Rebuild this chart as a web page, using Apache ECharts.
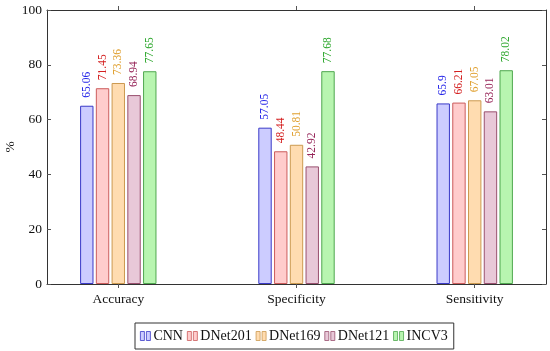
<!DOCTYPE html>
<html>
<head>
<meta charset="utf-8">
<script src="https://cdn.jsdelivr.net/npm/echarts@6/dist/echarts.min.js"></script>
<style>
html,body{margin:0;padding:0;background:#fff;}
#chart{width:550px;height:351px;}
</style>
</head>
<body>
<div id="chart"></div>
<script>
const categories = ['Accuracy', 'Specificity', 'Sensitivity'];
const seriesNames = ['CNN', 'DNet201', 'DNet169', 'DNet121', 'INCV3'];
const cnn = [65.06, 57.05, 65.9];
const dnet201 = [71.45, 48.44, 66.21];
const dnet169 = [73.36, 50.81, 67.05];
const dnet121 = [68.94, 42.92, 63.01];
const incv3 = [77.65, 77.68, 78.02];
const yTicks = [0, 20, 40, 60, 80, 100];

const values = [cnn, dnet201, dnet169, dnet121, incv3];
const fills = ['#ccccff', '#ffcccc', '#ffdcb0', '#e8c8d8', '#b8f5b0'];
const strokes = ['#3a3ac8', '#cc5c5c', '#cc9a50', '#99506f', '#4fa84f'];
const labelColors = ['#2424e8', '#d42020', '#e0a030', '#962458', '#2fa82f'];
const FONT = 'Liberation Serif';

const chart = echarts.init(document.getElementById('chart'), null, {renderer: 'canvas'});

const catIdx = categories.map((c, i) => i);

const series = seriesNames.map((name, s) => ({
  name: name,
  type: 'bar',
  xAxisIndex: 0,
  yAxisIndex: 0,
  barWidth: 13.4,
  barGap: '17.5%',
  data: values[s].map((v, i) => [catIdx[i], v]),
  itemStyle: {color: fills[s], borderColor: strokes[s], borderWidth: 1},
  label: {
    show: true,
    position: 'top',
    rotate: 90,
    align: 'left',
    verticalAlign: 'middle',
    distance: 8,
    color: labelColors[s],
    fontFamily: FONT,
    fontSize: 11.5,
    formatter: p => String(p.value[1])
  },
  emphasis: {disabled: true},
  animation: false
}));

const axisLineStyle = {show: true, onZero: false, lineStyle: {color: '#333', width: 1}};

const option = {
  animation: false,
  grid: {left: 47, right: 4, top: 10, bottom: 67, containLabel: false, outerBoundsMode: 'none'},
  legend: {
    data: seriesNames,
    left: 135,
    top: 323,
    orient: 'horizontal',
    itemWidth: 10,
    itemHeight: 9,
    itemGap: 4,
    padding: [6, 6, 6, 5],
    borderColor: '#333',
    borderWidth: 1,
    borderRadius: 0,
    icon: 'path://M0,0h4v9h-4z M6,0h4v9h-4z',
    itemStyle: {borderWidth: 0.8},
    textStyle: {fontFamily: FONT, fontSize: 14, color: '#111', padding: [0, 0, 0, -2]},
    selectedMode: false
  },
  xAxis: [{
    type: 'value',
    min: -0.4,
    max: 2.4,
    position: 'bottom',
    splitLine: {show: false},
    axisLine: axisLineStyle,
    axisTick: {show: true, customValues: catIdx, inside: false, length: 4, lineStyle: {color: '#555'}},
    axisLabel: {
      show: true, customValues: catIdx, margin: 8,
      formatter: v => categories[Math.round(v)],
      fontFamily: FONT, fontSize: 13.5, color: '#111'
    }
  }, {
    type: 'value',
    min: -0.4,
    max: 2.4,
    position: 'top',
    splitLine: {show: false},
    axisLine: axisLineStyle,
    axisTick: {show: true, customValues: catIdx, inside: false, length: 4, lineStyle: {color: '#555'}},
    axisLabel: {show: false}
  }],
  yAxis: [{
    type: 'value',
    min: 0,
    max: 100,
    interval: 20,
    position: 'left',
    name: '%',
    nameLocation: 'middle',
    nameRotate: 90,
    nameGap: 30,
    nameMoveOverlap: false,
    nameTextStyle: {fontFamily: FONT, fontSize: 13.5, color: '#111'},
    splitLine: {show: false},
    axisLine: axisLineStyle,
    axisTick: {show: true, inside: true, length: 4, lineStyle: {color: '#555'}},
    axisLabel: {
      show: true, margin: 5, customValues: yTicks,
      fontFamily: FONT, fontSize: 13.5, color: '#111'
    }
  }, {
    type: 'value',
    min: 0,
    max: 100,
    interval: 20,
    position: 'right',
    splitLine: {show: false},
    axisLine: axisLineStyle,
    axisTick: {show: true, inside: true, length: 4, lineStyle: {color: '#555'}},
    axisLabel: {show: false}
  }],
  series: series
};

chart.setOption(option);
</script>
</body>
</html>
